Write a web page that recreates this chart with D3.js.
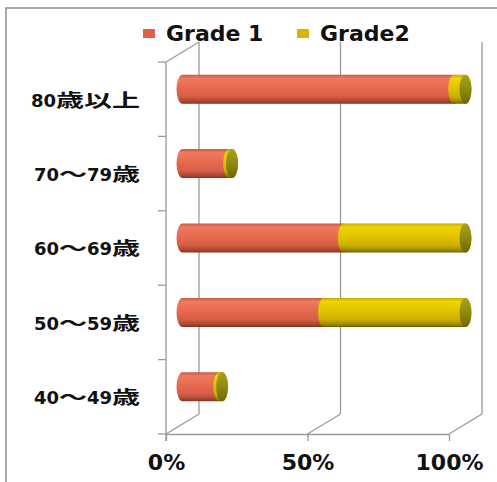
<!DOCTYPE html>
<html>
<head>
<meta charset="utf-8">
<script src="https://cdn.jsdelivr.net/npm/d3@7"></script>
<style>
  html, body { margin: 0; padding: 0; background: #fff; }
  svg { display: block; }
</style>
</head>
<body>
<script>
// Age groups (top to bottom) and share of each grade, in percent
const categories = ["80歳以上", "70〜79歳", "60〜69歳", "50〜59歳", "40〜49歳"];
const grade1 = [96, 16.5, 57, 50, 13];
const grade2 = [4, 1, 43, 50, 1];
const seriesNames = ["Grade 1", "Grade2"];
const tickValues = [0, 50, 100];

const W = 497, H = 482;
const svg = d3.select("body").append("svg").attr("width", W).attr("height", H);

// outer frame
svg.append("rect").attr("x", 6).attr("y", 8).attr("width", 700).attr("height", 700)
  .attr("fill", "#fff").attr("stroke", "#8c8c8c").attr("stroke-width", 1.5);

// front plane of the 3-D box and the depth offset of its back wall
const front = { left: 166, right: 449, top: 62, bottom: 434 };
const depth = { dx: 33, dy: -20 };

const x = d3.scaleLinear().domain([0, 100]).range([front.left, front.right]);
const y = d3.scaleBand().domain(categories).range([front.top, front.bottom]);

const gridColor = "#9a9a9a";
const grid = svg.append("g").attr("stroke", gridColor).attr("stroke-width", 1.3).attr("fill", "none");

// back-wall gridlines and floor edges
tickValues.forEach(t => {
  grid.append("line")
    .attr("x1", x(t) + depth.dx).attr("x2", x(t) + depth.dx)
    .attr("y1", front.top + depth.dy).attr("y2", front.bottom + depth.dy);
  grid.append("line")
    .attr("x1", x(t)).attr("y1", front.bottom)
    .attr("x2", x(t) + depth.dx).attr("y2", front.bottom + depth.dy);
});
// top edge of the side wall
grid.append("line")
  .attr("x1", front.left).attr("y1", front.top)
  .attr("x2", front.left + depth.dx).attr("y2", front.top + depth.dy);

// vertical category axis with ticks on band boundaries
grid.append("line")
  .attr("x1", front.left).attr("x2", front.left)
  .attr("y1", front.top).attr("y2", front.bottom + 7);
d3.range(categories.length + 1).forEach(i => {
  const yy = front.top + i * y.step();
  grid.append("line").attr("x1", front.left - 8).attr("x2", front.left)
    .attr("y1", yy).attr("y2", yy);
});

// horizontal value axis
const xAxis = svg.append("g")
  .attr("transform", `translate(0,${front.bottom})`)
  .call(d3.axisBottom(x).tickValues(tickValues).tickFormat(d => d + "%")
    .tickSize(7).tickSizeOuter(0).tickPadding(13));
xAxis.select(".domain").attr("stroke", gridColor).attr("stroke-width", 1.3);
xAxis.selectAll(".tick line").attr("stroke", gridColor).attr("stroke-width", 1.3);
xAxis.selectAll(".tick text")
  .attr("font-family", "'DejaVu Sans', sans-serif").attr("font-weight", "bold")
  .attr("font-size", 22).attr("fill", "#111");

// category labels: digits in Latin face, CJK runs widened
const labels = svg.append("g")
  .attr("font-family", "'DejaVu Sans', 'Noto Sans CJK JP', sans-serif")
  .attr("font-weight", "bold").attr("font-size", 18).attr("fill", "#111");
categories.forEach(c => {
  const t = labels.append("text")
    .attr("x", 140).attr("y", y(c) + y.bandwidth() / 2 + 1)
    .attr("dy", "0.36em").attr("text-anchor", "end");
  const runs = c.match(/[0-9]+|[^0-9]+/g);
  runs.forEach(r => {
    const s = t.append("tspan").text(r);
    if (!/^[0-9]+$/.test(r)) {
      s.attr("font-family", "'Noto Sans CJK JP', sans-serif")
        .attr("textLength", r.length * 28).attr("lengthAdjust", "spacingAndGlyphs");
    }
  });
});

// cylinder shading
const defs = svg.append("defs");
function vGrad(id, stops) {
  const g = defs.append("linearGradient").attr("id", id)
    .attr("x1", 0).attr("y1", 0).attr("x2", 0).attr("y2", 1);
  stops.forEach(([o, c]) => g.append("stop").attr("offset", o).attr("stop-color", c));
}
vGrad("g1", [[0, "#c45a43"], [0.12, "#ec7b60"], [0.4, "#e96c51"], [0.75, "#d55e45"], [0.92, "#a8452f"], [1, "#7e3424"]]);
vGrad("g2", [[0, "#c4aa00"], [0.12, "#f0d400"], [0.4, "#e4c600"], [0.75, "#cdb000"], [0.92, "#9c8700"], [1, "#6e6100"]]);
vGrad("cap", [[0, "#a8a21a"], [0.5, "#8e8a0e"], [1, "#6c6806"]]);

const fills = ["url(#g1)", "url(#g2)"];
const legendColors = ["#e0604a", "#d4b800"];
const rx = 6, ry = 14.5;
const bx = v => x(v) + depth.dx / 2;

const bars = svg.append("g");
categories.forEach((c, i) => {
  const cy = y(c) + y.bandwidth() / 2 + depth.dy / 2;
  const segs = [[0, grade1[i]], [grade1[i], grade1[i] + grade2[i]]];
  segs.forEach(([a, b], k) => {
    const x0 = bx(a), x1 = bx(b);
    bars.append("path")
      .attr("d", `M${x0},${cy - ry} L${x1},${cy - ry} A${rx},${ry} 0 0 1 ${x1},${cy + ry} L${x0},${cy + ry} A${rx},${ry} 0 0 1 ${x0},${cy - ry} Z`)
      .attr("fill", fills[k]);
  });
  // visible end face
  bars.append("ellipse")
    .attr("cx", bx(grade1[i] + grade2[i])).attr("cy", cy)
    .attr("rx", rx).attr("ry", ry)
    .attr("fill", "url(#cap)");
});

// legend
const legend = svg.append("g")
  .attr("font-family", "'DejaVu Sans', sans-serif").attr("font-weight", "bold")
  .attr("font-size", 22).attr("fill", "#111");
const legendX = [143, 297];
seriesNames.forEach((n, k) => {
  legend.append("rect").attr("x", legendX[k]).attr("y", 29)
    .attr("width", 12).attr("height", 9).attr("fill", legendColors[k]);
  legend.append("text").attr("x", legendX[k] + 23).attr("y", 41).text(n);
});
</script>
</body>
</html>
